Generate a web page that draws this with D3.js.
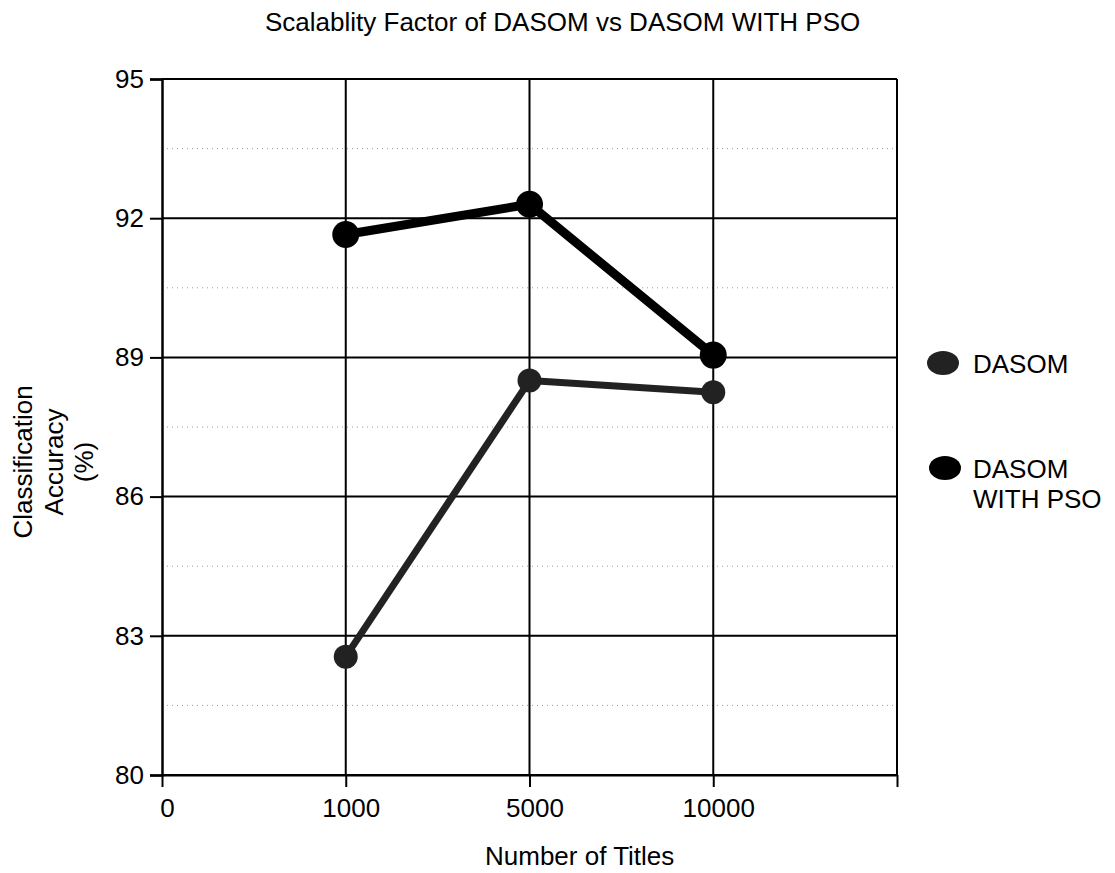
<!DOCTYPE html>
<html>
<head>
<meta charset="utf-8">
<script src="https://cdn.jsdelivr.net/npm/d3@7"></script>
<style>
  html, body { margin: 0; padding: 0; background: #fff; }
  svg { display: block; font-family: "Liberation Sans", Arial, sans-serif; }
</style>
</head>
<body>
<svg id="chart" width="1115" height="873"></svg>
<script>
// ---- data ----
const xTickLabels = ["0", "1000", "5000", "10000", ""];
const categories = ["1000", "5000", "10000"];
const dasom = [82.55, 88.5, 88.25];
const dasomPso = [91.65, 92.3, 89.05];
const yMajorTicks = [80, 83, 86, 89, 92, 95];
const yMinorTicks = [81.5, 84.5, 87.5, 90.5, 93.5];
const seriesNames = ["DASOM", "DASOM WITH PSO"];

// ---- layout ----
const svg = d3.select("#chart");
const plotLeft = 162, plotRight = 897, plotTop = 79, plotBottom = 775;
const FS = 26;

const x = d3.scalePoint().domain(xTickLabels).range([plotLeft, plotRight]);
const y = d3.scaleLinear().domain([80, 95]).range([plotBottom, plotTop]);

// minor dotted gridlines
svg.append("g").selectAll("line").data(yMinorTicks).join("line")
  .attr("x1", plotLeft).attr("x2", plotRight)
  .attr("y1", d => y(d)).attr("y2", d => y(d))
  .attr("stroke", "#9a9a9a").attr("stroke-width", 1)
  .attr("stroke-dasharray", "1,4");

// major horizontal gridlines
svg.append("g").selectAll("line").data(yMajorTicks).join("line")
  .attr("x1", plotLeft).attr("x2", plotRight)
  .attr("y1", d => y(d)).attr("y2", d => y(d))
  .attr("stroke", "#000").attr("stroke-width", 2);

// vertical gridlines
svg.append("g").selectAll("line").data(xTickLabels.slice(1)).join("line")
  .attr("x1", d => x(d)).attr("x2", d => x(d))
  .attr("y1", plotTop).attr("y2", plotBottom)
  .attr("stroke", "#000").attr("stroke-width", 2);

// y axis
const yAxis = d3.axisLeft(y).tickValues(yMajorTicks).tickSize(12).tickPadding(6).tickFormat(d3.format("d"));
const gy = svg.append("g").attr("transform", `translate(${plotLeft},0)`).call(yAxis);
gy.select(".domain").attr("stroke", "#000").attr("stroke-width", 2.5);
gy.selectAll(".tick line").attr("stroke", "#000").attr("stroke-width", 2);
gy.selectAll(".tick text").attr("font-size", FS).attr("fill", "#000")
  .attr("font-family", "Liberation Sans, Arial, sans-serif");

// x axis
const xAxis = d3.axisBottom(x).tickSize(12).tickPadding(12).tickSizeOuter(0);
const gx = svg.append("g").attr("transform", `translate(0,${plotBottom})`).call(xAxis);
gx.select(".domain").attr("stroke", "#000").attr("stroke-width", 2);
gx.selectAll(".tick line").attr("stroke", "#000").attr("stroke-width", 2);
gx.selectAll(".tick text").attr("font-size", FS).attr("fill", "#000").attr("dx", 5)
  .attr("font-family", "Liberation Sans, Arial, sans-serif");

// series
const series = [
  { name: seriesNames[0], values: dasom, color: "#222", width: 7, r: 12 },
  { name: seriesNames[1], values: dasomPso, color: "#000", width: 9, r: 13.5 }
];
const line = d3.line().x((d, i) => x(categories[i])).y(d => y(d));
series.forEach(s => {
  svg.append("path").datum(s.values)
    .attr("d", line).attr("fill", "none")
    .attr("stroke", s.color).attr("stroke-width", s.width)
    .attr("stroke-linejoin", "round");
  svg.append("g").selectAll("circle").data(s.values).join("circle")
    .attr("cx", (d, i) => x(categories[i])).attr("cy", d => y(d))
    .attr("r", s.r).attr("fill", s.color);
});

// legend
const legend = svg.append("g");
const leg1 = legend.append("g").attr("transform", "translate(943,363)");
leg1.append("ellipse").attr("rx", 16).attr("ry", 12).attr("fill", series[0].color);
leg1.append("text").attr("x", 30).attr("y", 10).attr("font-size", FS).text(seriesNames[0]);
const leg2 = legend.append("g").attr("transform", "translate(945,468)");
leg2.append("ellipse").attr("rx", 16).attr("ry", 12).attr("fill", series[1].color);
const t2 = leg2.append("text").attr("x", 28).attr("y", 10).attr("font-size", FS);
t2.append("tspan").attr("x", 28).text("DASOM");
t2.append("tspan").attr("x", 28).attr("dy", 30).text("WITH PSO");

// title
svg.append("text").attr("x", 265).attr("y", 31)
  .attr("font-size", FS).text("Scalablity Factor of DASOM vs DASOM WITH PSO");

// x axis title
svg.append("text").attr("x", 485).attr("y", 865)
  .attr("font-size", FS).text("Number of Titles");

// y axis title
const yt = svg.append("text").attr("transform", "translate(0,462) rotate(-90)")
  .attr("text-anchor", "middle").attr("font-size", FS);
yt.append("tspan").attr("x", 0).attr("y", 32).text("Classification");
yt.append("tspan").attr("x", 0).attr("y", 63).text("Accuracy");
yt.append("tspan").attr("x", 0).attr("y", 93).text("(%)");
</script>
</body>
</html>
